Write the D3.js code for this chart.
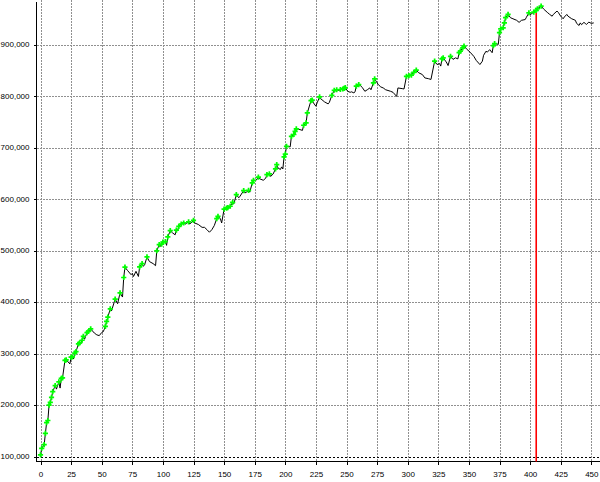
<!DOCTYPE html>
<html>
<head>
<meta charset="utf-8">
<script src="https://cdn.jsdelivr.net/npm/d3@7"></script>
<style>
  html, body { margin: 0; padding: 0; background: #ffffff; }
  svg { display: block; }
  .tick text { font-family: "Liberation Sans", Arial, sans-serif; font-size: 8px; fill: #000; }
</style>
</head>
<body>
<svg id="chart" width="600" height="482"></svg>
<script>
// ---- data ----
const xTicks = [0, 25, 50, 75, 100, 125, 150, 175, 200, 225, 250, 275, 300, 325, 350, 375, 400, 425, 450];
const yTicks = [100000, 200000, 300000, 400000, 500000, 600000, 700000, 800000, 900000];

const tradeIdx = [
  0, 1, 3, 4, 5, 6, 7, 8, 9, 10, 12, 13, 15, 16, 17, 18, 20, 21, 24, 25, 26, 27, 28, 29, 31, 32, 33, 34, 35, 36, 38, 39, 41, 44, 46, 48, 50, 51, 52, 53, 54,
  55, 57, 58, 61, 63, 65, 67, 68, 69, 71, 74, 75, 76, 78, 80, 81, 83, 84, 85, 87, 89, 92, 94, 95, 97, 98, 99, 100, 102, 103, 104, 106, 108, 110, 111, 112, 113, 115, 117, 118, 121, 122, 125, 126, 129, 132, 134, 136, 138, 140, 142, 144, 145, 147, 148, 150, 152, 153, 155, 157, 158,
  160, 162, 163, 166, 167, 168, 170, 171, 173, 174, 176, 178, 179, 182, 184, 185, 187, 188, 190, 192, 193, 194, 196, 197, 198, 199, 200, 201, 202, 204, 205, 207, 208, 209, 211, 212, 214, 215, 217, 218, 221, 222, 223, 225, 226, 228, 229, 232, 235, 236, 238, 240, 241, 242, 244, 245, 247, 248, 249, 251, 253, 254, 256, 257, 258, 260, 261, 263, 265, 267, 269, 270, 272, 273, 275, 276,
  278, 280, 282, 286, 288, 291, 292, 296, 297, 299, 301, 303, 305, 307, 309, 312, 314, 317, 319, 322, 324, 326, 327, 328, 329, 331, 332, 333, 335, 336, 337, 339, 341, 342, 343, 345, 346, 348, 351, 354, 356, 359, 361, 362, 364, 365, 367, 369, 370, 371, 373, 374, 375, 376, 378, 379, 380, 382, 384, 386, 389, 391, 393, 396, 397, 399, 400, 402, 403, 405, 406, 409, 411, 414, 416, 418, 419, 422, 423, 425, 427, 428, 430, 431, 434, 437, 438, 440, 441, 442, 444, 445, 446, 448, 450, 452
];
const balance = [
  103000, 116000, 123000, 145000, 166000, 170000, 200000, 205000, 215000, 226000, 238000, 231000, 245000, 233000, 252000, 253000, 287000, 288000, 280000, 293000, 293500, 289500, 301000, 304000, 319000, 321000, 319000, 326000, 333500, 328000, 341000, 343000, 348000, 340000, 336500, 335000, 341000, 342000, 346500, 353000, 362500,
  371000, 387000, 383000, 406000, 397000, 418000, 410000, 448000, 468000, 462000, 453500, 456000, 450000, 460000, 450000, 468500, 475000, 470000, 472000, 488000, 479000, 475000, 471000, 500000, 512000, 508500, 513000, 517000, 518000, 510500, 527000, 539000, 534500, 531000, 540000, 539000, 547500, 552000, 554000, 551500, 556000, 552000, 559000, 554000, 551000, 545500, 545500, 541000, 536000, 541000, 549000, 562500, 567000, 562000, 554000, 581000, 583000, 584000, 586500, 594000, 591500,
  609000, 603000, 606000, 617000, 612500, 613500, 617500, 614000, 632000, 637000, 636500, 643000, 640000, 637000, 641000, 648000, 649500, 644500, 649000, 659000, 667500, 661000, 658000, 663000, 659000, 682500, 688000, 703000, 702500, 702000, 722500, 726000, 732000, 737000, 736500, 735500, 734000, 744000, 748500, 768000, 792000, 793000, 787500, 781000, 787500, 799000, 795500, 789500, 785500, 788500, 802000, 812000, 810500, 813000, 811500, 813500, 814500, 815500, 817000, 810000, 808000, 809000, 807000, 809000, 820000, 823000, 822000, 817000, 810000, 813000, 816500, 813000, 826500, 834000, 826500, 823000,
  818500, 816500, 813000, 810000, 808000, 800000, 816500, 815000, 814500, 839000, 840500, 841500, 847000, 851000, 846000, 842500, 836000, 834500, 833000, 868500, 862000, 864000, 859000, 873000, 875000, 868500, 865000, 860000, 878000, 875000, 872000, 875000, 873000, 885000, 888000, 894500, 898000, 892500, 886000, 878000, 870000, 862000, 868500, 880000, 888000, 886000, 891000, 885000, 899000, 902500, 902000, 901000, 924000, 931500, 933500, 943000, 953000, 959500, 953000, 951000, 948000, 944000, 948000, 949500, 954000, 962500, 959000, 962000, 964000, 967500, 970500, 975500, 970000, 963500, 959500, 956000, 959500, 966000, 963500, 956000, 951000, 954500, 959500, 956000, 951000, 948000, 942000, 938000, 943000, 939500, 944000, 942000, 940000, 944500, 942000, 943000
];
const cursorIdx = 405;

// ---- chart ----
const svg = d3.select("#chart");
const W = 600, H = 482;
const axisX = 36.5, axisY = 461.5;

const x = d3.scaleLinear().domain([0, 450]).range([40.5, 591.3]);
const y = d3.scaleLinear().domain([100000, 900000]).range([456.5, 45]);

const data = tradeIdx.map((t, i) => ({ t: t, v: balance[i] }));

// gridlines
const grid = svg.append("g").attr("shape-rendering", "crispEdges");
grid.selectAll("line.vg").data(xTicks).join("line")
  .attr("class", "vg")
  .attr("x1", d => Math.round(x(d)) + 0.5).attr("x2", d => Math.round(x(d)) + 0.5)
  .attr("y1", 0).attr("y2", axisY)
  .attr("stroke", "#909090").attr("stroke-width", 1).attr("stroke-dasharray", "2,1");
grid.selectAll("line.hg").data(yTicks).join("line")
  .attr("class", "hg")
  .attr("x1", axisX).attr("x2", W)
  .attr("y1", d => Math.round(y(d)) + 0.5).attr("y2", d => Math.round(y(d)) + 0.5)
  .attr("stroke", d => d === 100000 ? "#000" : "#909090")
  .attr("stroke-width", 1)
  .attr("stroke-dasharray", d => d === 100000 ? "2,2" : "2,1");

// axes
const xAxis = svg.append("g")
  .attr("transform", `translate(0,${axisY})`)
  .call(d3.axisBottom(x).tickValues(xTicks).tickSize(3).tickPadding(6.5).tickFormat(d3.format("d")));
xAxis.select(".domain").remove();
xAxis.selectAll(".tick line").attr("shape-rendering", "crispEdges");

const yAxis = svg.append("g")
  .attr("transform", `translate(${axisX},0)`)
  .call(d3.axisLeft(y).tickValues(yTicks).tickSize(3).tickPadding(4).tickFormat(d3.format(",")));
yAxis.select(".domain").remove();
yAxis.selectAll(".tick line").attr("shape-rendering", "crispEdges");
yAxis.selectAll(".tick text").attr("dy", "0.22em");

svg.append("line").attr("x1", axisX).attr("x2", axisX).attr("y1", 2).attr("y2", axisY + 0.5)
  .attr("stroke", "#000").attr("shape-rendering", "crispEdges");
svg.append("line").attr("x1", axisX).attr("x2", W).attr("y1", axisY).attr("y2", axisY)
  .attr("stroke", "#000").attr("shape-rendering", "crispEdges");

// balance line
const line = d3.line().x(d => x(d.t)).y(d => y(d.v));
svg.append("path").datum(data)
  .attr("d", line)
  .attr("fill", "none").attr("stroke", "#000").attr("stroke-width", 1);

// red cursor line
const cursorPoint = data.find(d => d.t === cursorIdx);
svg.append("line")
  .attr("x1", x(cursorIdx)).attr("x2", x(cursorIdx))
  .attr("y1", y(cursorPoint.v)).attr("y2", axisY)
  .attr("stroke", "#ff0000").attr("stroke-width", 1.6);

// new-high markers
let runMax = -Infinity;
const highs = [];
data.forEach(d => { if (d.v > runMax) { highs.push(d); runMax = d.v; } });
const sym = d3.symbol().type(d3.symbolCross).size(15);
svg.append("g").selectAll("path").data(highs).join("path")
  .attr("transform", d => `translate(${x(d.t)},${y(d.v)})`)
  .attr("d", sym)
  .attr("fill", "#00ff00");
</script>
</body>
</html>
